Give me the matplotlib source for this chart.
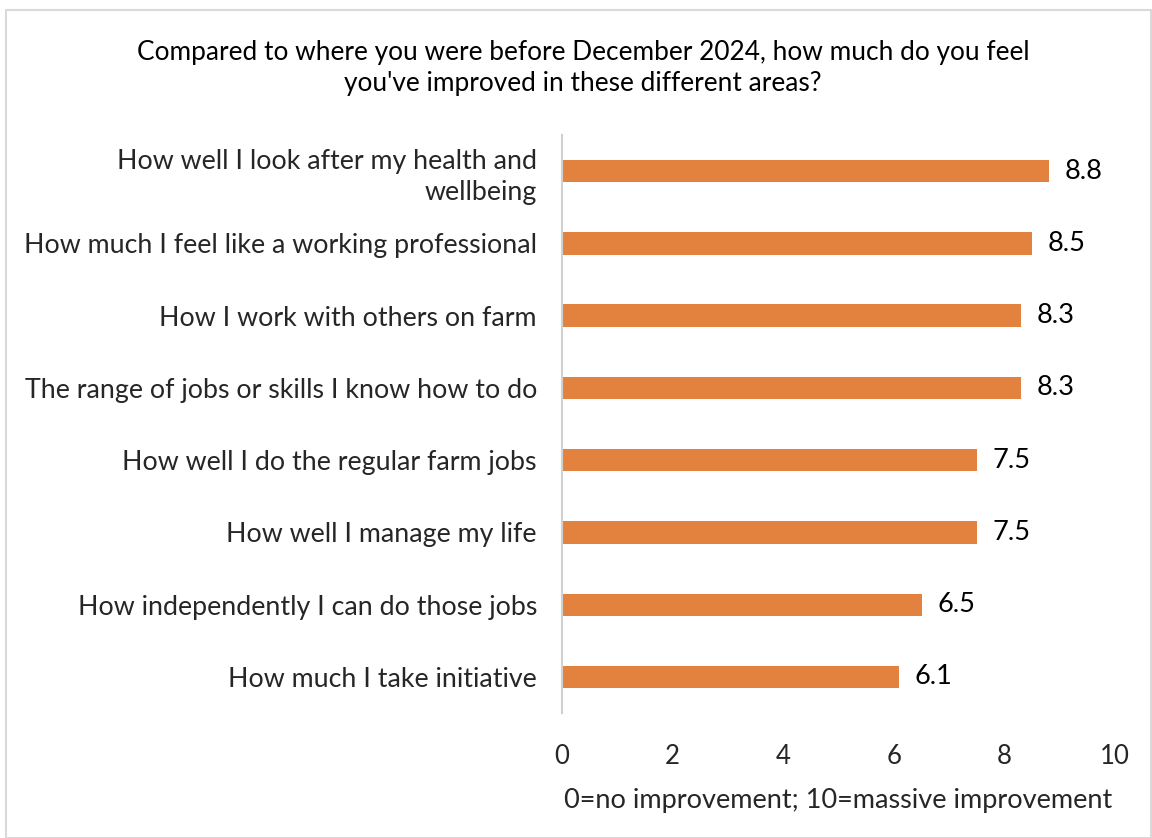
import matplotlib.pyplot as plt
from matplotlib.patches import Rectangle

categories = ["How well I look after my health and\nwellbeing",
              "How much I feel like a working professional",
              "How I work with others on farm",
              "The range of jobs or skills I know how to do",
              "How well I do the regular farm jobs",
              "How well I manage my life",
              "How independently I can do those jobs",
              "How much I take initiative"]
values = [8.8, 8.5, 8.3, 8.3, 7.5, 7.5, 6.5, 6.1]
labels = ["8.8", "8.5", "8.3", "8.3", "7.5", "7.5", "6.5", "6.1"]

plt.rcParams['font.family'] = ['Lato', 'DejaVu Sans']

fig = plt.figure(figsize=(11.52, 8.38), dpi=100)
ax = fig.add_axes([0.4878, 0.149, 0.4802, 0.690])

y = list(range(len(categories)))
ax.barh(y, values, height=0.31, color="#E3823F")
for yi, v, t in zip(y, values, labels):
    ax.text(v + 0.28, yi, t, va="center", ha="left", fontsize=19.5, color="black")

ax.set_xlim(0, 10)
ax.set_ylim(len(categories) - 0.5, -0.5)
ax.set_yticks(y)
ax.set_yticklabels(categories, fontsize=19.3, color="#262626", ha="right", linespacing=1.3)
ax.set_xticks([0, 2, 4, 6, 8, 10])
ax.set_xticklabels(["0", "2", "4", "6", "8", "10"], fontsize=18.5, color="#262626")
ax.tick_params(axis="both", length=0)
ax.tick_params(axis="y", pad=18)
ax.tick_params(axis="x", pad=22)
for s in ["top", "right", "bottom"]:
    ax.spines[s].set_visible(False)
ax.spines["left"].set_color("#D0D0D0")
ax.spines["left"].set_linewidth(1.5)
ax.set_xlabel("0=no improvement; 10=massive improvement", fontsize=19.5, color="#262626",
              labelpad=14)

fig.text(0.506, 0.919, "Compared to where you were before December 2024, how much do you feel\nyou've improved in these different areas?",
         ha="center", va="center", fontsize=18.9, color="black", linespacing=1.3)

fig.patches.append(Rectangle((6 / 1152, 0), 1 - 6 / 1152 - 0.001, 1 - 10 / 838, transform=fig.transFigure,
                             fill=False, edgecolor="#D9D9D9", linewidth=1.5))

fig.savefig("out.png", dpi=100)
